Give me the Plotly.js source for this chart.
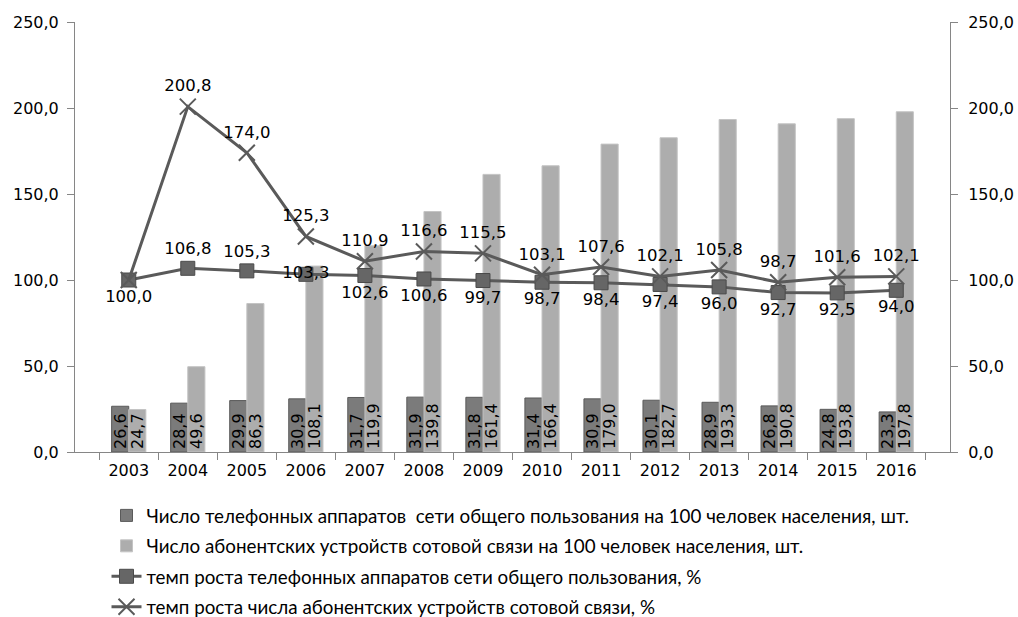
<!DOCTYPE html>
<html>
<head>
<meta charset="utf-8">
<script src="https://cdn.plot.ly/plotly-3.0.1.min.js"></script>
<style>html,body{margin:0;padding:0;background:#fff;}#chart{width:1018px;height:617px;}</style>
</head>
<body>
<div id="chart"></div>
<script>
const years = ['2003','2004','2005','2006','2007','2008','2009','2010','2011','2012','2013','2014','2015','2016'];
const phones = [26.6,28.4,29.9,30.9,31.7,31.9,31.8,31.4,30.9,30.1,28.9,26.8,24.8,23.3];
const mobiles = [24.7,49.6,86.3,108.1,119.9,139.8,161.4,166.4,179.0,182.7,193.3,190.8,193.8,197.8];
const phoneGrowth = [100.0,106.8,105.3,103.3,102.6,100.6,99.7,98.7,98.4,97.4,96.0,92.7,92.5,94.0];
const mobileGrowth = [100.0,200.8,174.0,125.3,110.9,116.6,115.5,103.1,107.6,102.1,105.8,98.7,101.6,102.1];
const names = [
  'Число телефонных аппаратов  сети общего пользования на 100 человек населения, шт.',
  'Число абонентских устройств сотовой связи на 100 человек населения, шт.',
  'темп роста телефонных аппаратов сети общего пользования, %',
  'темп роста числа абонентских устройств сотовой связи, %'
];
const fmt = v => v.toFixed(1).replace('.', ',');
const phoneGrowthPos = phoneGrowth.map((v,i) => i===0 ? 'bottom center' : (i<3 ? 'top center' : (i===3 ? 'middle center' : 'bottom center')));
const lblFont = {family:'DejaVu Sans', size:16.5, color:'#000'};
const barFont = {family:'DejaVu Sans', size:16, color:'#000'};

const traces = [
  {type:'bar', x:years, y:phones, name:names[0], legendgroup:'a',
   marker:{color:'#7b7b7b', line:{color:'#5a5a5a', width:1}},
   text:phones.map(fmt), textposition:'inside', insidetextanchor:'start', textangle:-90,
   constraintext:'none', textfont:barFont, cliponaxis:false},
  {type:'bar', x:years, y:mobiles, name:names[1], legendgroup:'b',
   marker:{color:'#adadad', line:{color:'#c4c4c4', width:1}},
   text:mobiles.map(fmt), textposition:'inside', insidetextanchor:'start', textangle:-90,
   constraintext:'none', textfont:barFont, cliponaxis:false},
  {type:'scatter', mode:'lines+markers+text', x:years, y:phoneGrowth, name:names[2], yaxis:'y2', legendgroup:'c',
   line:{color:'#5a5a5a', width:3}, marker:{symbol:'square', size:14, color:'#666666', line:{color:'#4a4a4a', width:1}},
   text:phoneGrowth.map(fmt), textposition:phoneGrowthPos, textfont:lblFont, cliponaxis:false},
  {type:'scatter', mode:'lines+markers+text', x:years, y:mobileGrowth, name:names[3], yaxis:'y2', legendgroup:'d',
   line:{color:'#5a5a5a', width:3}, marker:{symbol:'x-thin-open', size:16, color:'#5a5a5a', line:{color:'#5a5a5a', width:2}},
   text:mobileGrowth.map((v,i)=> i===0 ? '' : fmt(v)), textposition:'top center', textfont:lblFont, cliponaxis:false}
];

const axisFont = {family:'DejaVu Sans', size:16, color:'#000'};
const layout = {
  width:1018, height:617,
  margin:{l:75, r:68, t:22, b:165, autoexpand:false},
  paper_bgcolor:'#fff', plot_bgcolor:'#fff',
  separators:', ',
  barmode:'group', bargap:0.42, bargroupgap:0,
  showlegend:true,
  legend:{x:0.036, y:0.195, xref:'paper', yref:'container', xanchor:'left', yanchor:'top', orientation:'v',
    font:{family:'Lato', size:18.8, color:'#000'}, tracegroupgap:3, traceorder:'grouped', itemwidth:30},
  xaxis:{type:'category', showline:true, linecolor:'#868686', linewidth:1,
    ticks:'outside', tickson:'boundaries', ticklen:7, tickcolor:'#868686', ticklabelstandoff:4,
    tickfont:axisFont, showgrid:false, zeroline:false},
  yaxis:{range:[0,250], dtick:50, tickformat:'.1f', showline:true, linecolor:'#868686',
    ticks:'outside', ticklen:7, tickcolor:'#868686', ticklabelstandoff:5, tickfont:axisFont, showgrid:false, zeroline:false},
  yaxis2:{range:[0,250], dtick:50, tickformat:'.1f', overlaying:'y', side:'right', showline:true, linecolor:'#868686',
    ticks:'outside', ticklen:7, tickcolor:'#868686', ticklabelstandoff:7, tickfont:axisFont, showgrid:false, zeroline:false}
};
Plotly.newPlot('chart', traces, layout, {displayModeBar:false, staticPlot:true});
</script>
</body>
</html>
